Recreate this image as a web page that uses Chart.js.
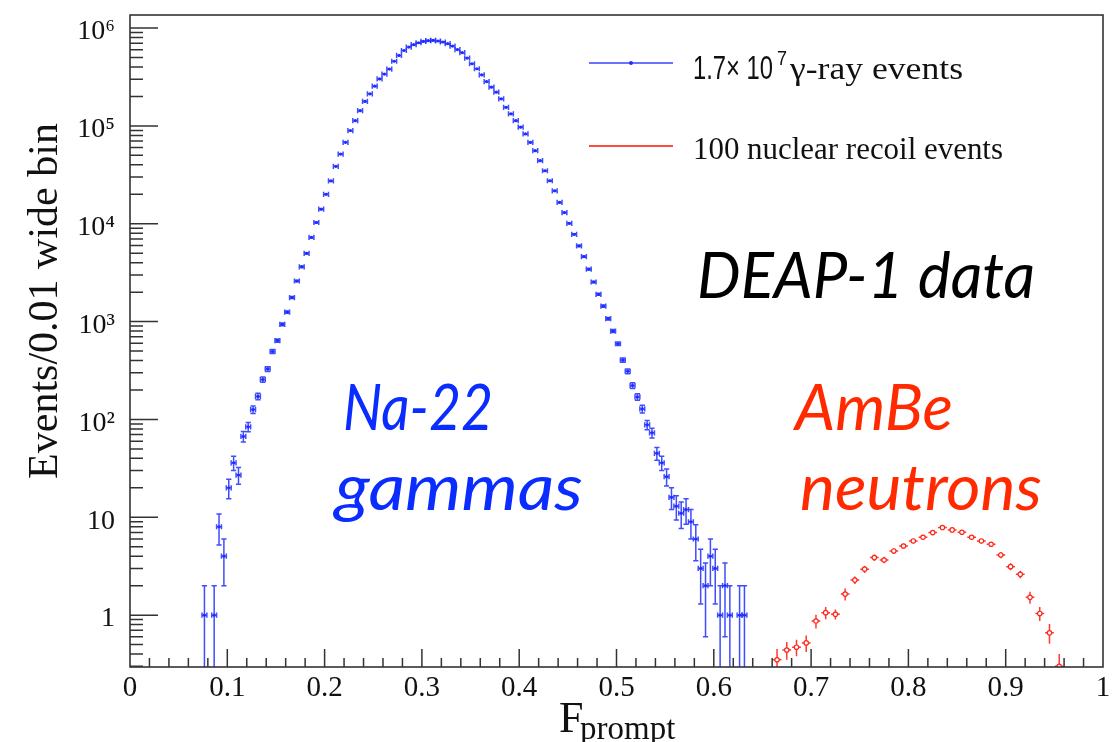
<!DOCTYPE html>
<html>
<head>
<meta charset="utf-8">
<script src="https://cdn.jsdelivr.net/npm/chart.js@4.4.1/dist/chart.umd.min.js"></script>
<style>
  html, body { margin: 0; padding: 0; background: #fff; }
  #wrap { width: 1118px; height: 742px; position: relative; }
</style>
</head>
<body>
<div id="wrap"><canvas id="fprompt" width="1118" height="742"></canvas></div>
<script>
// Na-22 gammas: bin centre (0.005 wide bins), counts, stat. error
const gammaX = [
  0.0765, 0.0815, 0.0865, 0.0915, 0.0965, 0.1015, 0.1065, 0.1115, 0.1165, 0.1215,
  0.1265, 0.1315, 0.1365, 0.1415, 0.1465, 0.1515, 0.1565, 0.1615, 0.1665, 0.1715,
  0.1765, 0.1815, 0.1865, 0.1915, 0.1965, 0.2015, 0.2065, 0.2115, 0.2165, 0.2215,
  0.2265, 0.2315, 0.2365, 0.2415, 0.2465, 0.2515, 0.2565, 0.2615, 0.2665, 0.2715,
  0.2765, 0.2815, 0.2865, 0.2915, 0.2965, 0.3015, 0.3065, 0.3115, 0.3165, 0.3215,
  0.3265, 0.3315, 0.3365, 0.3415, 0.3465, 0.3515, 0.3565, 0.3615, 0.3665, 0.3715,
  0.3765, 0.3815, 0.3865, 0.3915, 0.3965, 0.4015, 0.4065, 0.4115, 0.4165, 0.4215,
  0.4265, 0.4315, 0.4365, 0.4415, 0.4465, 0.4515, 0.4565, 0.4615, 0.4665, 0.4715,
  0.4765, 0.4815, 0.4865, 0.4915, 0.4965, 0.5015, 0.5065, 0.5115, 0.5165, 0.5215,
  0.5265, 0.5315, 0.5365, 0.5415, 0.5465, 0.5515, 0.5565, 0.5615, 0.5665, 0.5715,
  0.5765, 0.5815, 0.5865, 0.5915, 0.5965, 0.6015, 0.6065, 0.6115, 0.6165, 0.6215,
  0.6265, 0.6315
];
const gammaY = [
  1, null, 1, 8, 4, 20, 36, 27, 67, 84,
  126, 172, 256, 328, 495, 640, 935, 1250, 1760, 2600,
  3630, 4990, 7250, 10300, 14100, 20000, 27400, 38600, 51500, 68000,
  89700, 113000, 143000, 178000, 213000, 255000, 302000, 339000, 381000, 458000,
  525000, 590000, 640000, 676000, 708000, 731000, 743000, 748000, 738000, 720000,
  692000, 655000, 603000, 560000, 494000, 432000, 384000, 333000, 284000, 249000,
  221000, 189000, 155000, 133000, 113000, 97000, 82800, 67800, 55800, 44100,
  34800, 27500, 21700, 16500, 13000, 10100, 7800, 5940, 4620, 3430,
  2540, 1900, 1440, 1070, 800, 594, 404, 311, 222, 170,
  128, 88, 73, 45, 36, 26, 16, 13, 11, 12,
  9, 6, 3, 2, 4, 3, 1, 2, 1, null,
  1, 1
];
const gammaErr = [
  1, null, 1, 2.8, 2, 4.5, 6, 5.2, 8.2, 9.2,
  11.2, 13.1, 16, 18.1, 22.2, 25.3, 30.6, 35.4, 42, 51,
  60, 71, 85, 101, 119, 141, 166, 196, 227, 261,
  300, 336, 378, 422, 462, 505, 550, 582, 617, 677,
  725, 768, 800, 822, 841, 855, 862, 865, 859, 849,
  832, 809, 777, 748, 703, 657, 620, 577, 533, 499,
  470, 435, 394, 365, 336, 311, 288, 260, 236, 210,
  187, 166, 147, 128, 114, 100, 88, 77, 68, 59,
  50, 44, 38, 33, 28, 24, 20, 17.6, 14.9, 13,
  11.3, 9.4, 8.5, 6.7, 6, 5.1, 4, 3.6, 3.3, 3.5,
  3, 2.4, 1.7, 1.4, 2, 1.7, 1, 1.4, 1, null,
  1, 1
];

// AmBe nuclear recoils: bin centre (0.01 wide bins), scaled counts, error
const recoilX = [
  0.665, 0.675, 0.685, 0.695, 0.705, 0.715, 0.725, 0.735, 0.745, 0.755,
  0.765, 0.775, 0.785, 0.795, 0.805, 0.815, 0.825, 0.835, 0.845, 0.855,
  0.865, 0.875, 0.885, 0.895, 0.905, 0.915, 0.925, 0.935, 0.945, 0.955
];
const recoilY = [
  0.35, 0.44, 0.47, 0.52, 0.87, 1.06, 1.02, 1.64, 2.28, 2.95,
  3.87, 3.66, 4.53, 5.09, 5.73, 6.25, 6.97, 7.85, 7.43, 7.03,
  6.25, 5.73, 5.3, 4.12, 3.13, 2.61, 1.52, 1.04, 0.66, 0.30
];
const recoilErr = [
  0.1, 0.09, 0.09, 0.1, 0.14, 0.15, 0.12, 0.23, 0.2, 0.25,
  0.3, 0.28, 0.3, 0.3, 0.32, 0.33, 0.35, 0.37, 0.36, 0.35,
  0.33, 0.32, 0.3, 0.3, 0.25, 0.23, 0.21, 0.17, 0.15, 0.1
];

const xTickValues = [0, 0.1, 0.2, 0.3, 0.4, 0.5, 0.6, 0.7, 0.8, 0.9, 1];
const xTickLabels = ['0', '0.1', '0.2', '0.3', '0.4', '0.5', '0.6', '0.7', '0.8', '0.9', '1'];
const yTickValues = [1, 10, 100, 1000, 10000, 100000, 1000000];
const yTickLabels = ['1', '10', '10\u00b2', '10\u00b3', '10\u2074', '10\u2075', '10\u2076'];

const BLUE = '#1f2dff';
const RED = '#ff2418';
const SERIF = '"Liberation Serif", "Times New Roman", serif';
const SANS = '"Liberation Sans", Arial, sans-serif';
const ITALIC = 'Lato, "Open Sans", "Noto Sans", sans-serif';

Chart.defaults.font.family = SERIF;

/* ---------- helpers ---------- */
function toPoints(xs, ys, errs) {
  const out = [];
  xs.forEach((x, i) => {
    if (ys[i] == null) return;
    out.push({ x, y: ys[i], err: errs[i] || 0 });
  });
  return out;
}

// draw text stretched / squeezed to the width it takes in the picture
function fitText(ctx, text, x, y, w, font, color) {
  ctx.save();
  ctx.font = font;
  ctx.fillStyle = color;
  ctx.textAlign = 'left';
  ctx.textBaseline = 'alphabetic';
  const m = ctx.measureText(text).width || 1;
  ctx.translate(x, y);
  ctx.scale(w / m, 1);
  ctx.fillText(text, 0, 0);
  ctx.restore();
}

/* ---------- error bars (drawn under the markers) ---------- */
const errorBars = {
  id: 'errorBars',
  beforeDatasetsDraw(chart) {
    const { ctx, chartArea: a, scales: { x, y } } = chart;
    ctx.save();
    ctx.beginPath();
    ctx.rect(a.left, a.top, a.right - a.left, a.bottom - a.top);
    ctx.clip();
    chart.data.datasets.forEach(ds => {
      const e = ds.errStyle;
      if (!e) return;
      ctx.strokeStyle = e.color;
      ctx.lineWidth = e.width;
      ds.data.forEach(p => {
        const px = x.getPixelForValue(p.x);
        const py = y.getPixelForValue(p.y);
        const lo = p.y - p.err;
        const yTop = y.getPixelForValue(p.y + p.err);
        const yBot = lo > y.min ? y.getPixelForValue(lo) : a.bottom + 2;
        const xl = x.getPixelForValue(p.x - e.halfBin);
        const xr = x.getPixelForValue(p.x + e.halfBin);
        ctx.beginPath();
        ctx.moveTo(px, yTop); ctx.lineTo(px, yBot);
        ctx.moveTo(xl, py); ctx.lineTo(xr, py);
        if (e.cap) {
          ctx.moveTo(px - e.cap, yTop); ctx.lineTo(px + e.cap, yTop);
          if (lo > y.min) { ctx.moveTo(px - e.cap, yBot); ctx.lineTo(px + e.cap, yBot); }
          ctx.moveTo(xl, py - e.cap); ctx.lineTo(xl, py + e.cap);
          ctx.moveTo(xr, py - e.cap); ctx.lineTo(xr, py + e.cap);
        }
        ctx.stroke();
      });
    });
    ctx.restore();
  }
};

/* ---------- ROOT style frame with inward ticks ---------- */
const rootFrame = {
  id: 'rootFrame',
  afterDatasetsDraw(chart) {
    const { ctx, chartArea: a, scales: { x, y } } = chart;
    ctx.save();
    ctx.strokeStyle = '#333';
    ctx.lineWidth = 1.6;
    ctx.strokeRect(a.left, a.top, a.right - a.left, a.bottom - a.top);

    ctx.lineWidth = 1.5;
    ctx.beginPath();
    // x: major every 0.1, minor every 0.02
    for (let i = 1; i < 50; i++) {
      const px = x.getPixelForValue(i / 50);
      const len = i % 5 === 0 ? 18 : 9;
      ctx.moveTo(px, a.bottom); ctx.lineTo(px, a.bottom - len);
    }
    // y: decades + 2..9 subdivisions
    for (let d = -1; d <= 6; d++) {
      for (let m = 1; m <= 9; m++) {
        const v = m * Math.pow(10, d);
        if (v < y.min || v > y.max) continue;
        const py = y.getPixelForValue(v);
        const len = m === 1 ? 28 : 13;
        ctx.moveTo(a.left, py); ctx.lineTo(a.left + len, py);
      }
    }
    ctx.stroke();
    ctx.restore();
  }
};

/* ---------- titles, legend and annotations ---------- */
const overlay = {
  id: 'overlay',
  afterDraw(chart) {
    const { ctx } = chart;
    ctx.save();

    // y title
    ctx.translate(57, 301);
    ctx.rotate(-Math.PI / 2);
    ctx.font = '42px ' + SERIF;
    ctx.fillStyle = '#111';
    ctx.textAlign = 'center';
    ctx.textBaseline = 'alphabetic';
    ctx.fillText('Events/0.01 wide bin', 0, 0);
    ctx.restore();

    // x title F_prompt
    ctx.save();
    ctx.fillStyle = '#111';
    ctx.textBaseline = 'alphabetic';
    ctx.font = '44px ' + SERIF;
    ctx.fillText('F', 559, 732);
    ctx.font = '33px ' + SERIF;
    ctx.fillText('prompt', 580, 739);
    ctx.restore();

    // legend
    ctx.save();
    ctx.lineWidth = 2;
    ctx.strokeStyle = '#6a72ff';
    ctx.beginPath(); ctx.moveTo(589, 63); ctx.lineTo(673, 63); ctx.stroke();
    ctx.fillStyle = BLUE;
    ctx.beginPath(); ctx.arc(631, 63, 2, 0, Math.PI * 2); ctx.fill();
    ctx.strokeStyle = '#ff4a40';
    ctx.beginPath(); ctx.moveTo(589, 146); ctx.lineTo(673, 146); ctx.stroke();
    ctx.restore();

    fitText(ctx, '1.7\u00d7 10', 693, 79, 80, '33px ' + SANS, '#111');
    fitText(ctx, '7', 777, 65, 10, '20px ' + SANS, '#111');
    fitText(ctx, '\u03b3-ray events', 790, 79, 173, '31px ' + SERIF, '#111');
    fitText(ctx, '100 nuclear recoil events', 693, 159, 310, '31px ' + SERIF, '#111');

    // annotations
    const ital = 'italic 64px ' + ITALIC;
    fitText(ctx, 'DEAP-1 data', 697, 298, 338, ital, '#000');
    fitText(ctx, 'Na-22', 343, 430, 150, ital, '#0a2cff');
    fitText(ctx, 'gammas', 335, 510, 248, ital, '#0a2cff');
    fitText(ctx, 'AmBe', 795, 430, 158, ital, '#ff2a00');
    fitText(ctx, 'neutrons', 800, 510, 242, ital, '#ff2a00');
  }
};

/* ---------- chart ---------- */
const canvas = document.getElementById('fprompt');
new Chart(canvas.getContext('2d'), {
  type: 'scatter',
  data: {
    datasets: [
      {
        label: '1.7\u00d7 10\u2077 \u03b3-ray events',
        data: toPoints(gammaX, gammaY, gammaErr),
        pointRadius: 1.6,
        pointBackgroundColor: BLUE,
        pointBorderWidth: 0,
        errStyle: { color: 'rgba(31,45,255,0.85)', width: 1.5, halfBin: 0.0025, cap: 2.6 }
      },
      {
        label: '100 nuclear recoil events',
        data: toPoints(recoilX, recoilY, recoilErr),
        pointRadius: 2.2,
        pointBackgroundColor: '#fff',
        pointBorderColor: RED,
        pointBorderWidth: 1.2,
        errStyle: { color: 'rgba(255,36,24,0.9)', width: 1.5, halfBin: 0.0045, cap: 0 }
      }
    ]
  },
  options: {
    responsive: false,
    animation: false,
    layout: { padding: { top: 15, right: 15, left: 0, bottom: 0 } },
    plugins: {
      legend: { display: false },
      tooltip: { enabled: false }
    },
    scales: {
      x: {
        type: 'linear',
        min: 0,
        max: 1,
        grid: { display: false, drawTicks: false },
        border: { display: false },
        afterBuildTicks: s => { s.ticks = xTickValues.map(v => ({ value: v })); },
        afterFit: s => { s.height = 75; s.paddingLeft = 0; s.paddingRight = 0; },
        ticks: {
          autoSkip: false,
          maxRotation: 0,
          padding: 4,
          color: '#111',
          font: { size: 29, family: SERIF },
          callback: v => xTickLabels[xTickValues.indexOf(v)] ?? ''
        }
      },
      y: {
        type: 'logarithmic',
        min: 0.295,
        max: 1.36e6,
        grid: { display: false, drawTicks: false },
        border: { display: false },
        afterBuildTicks: s => { s.ticks = yTickValues.map(v => ({ value: v })); },
        afterFit: s => { s.width = 130; s.paddingTop = 0; s.paddingBottom = 0; },
        ticks: {
          autoSkip: false,
          padding: 15,
          labelOffset: 4,
          color: '#111',
          font: { size: 28, family: SERIF },
          callback: v => yTickLabels[yTickValues.indexOf(v)] ?? ''
        }
      }
    }
  },
  plugins: [errorBars, rootFrame, overlay]
});
</script>
</body>
</html>
